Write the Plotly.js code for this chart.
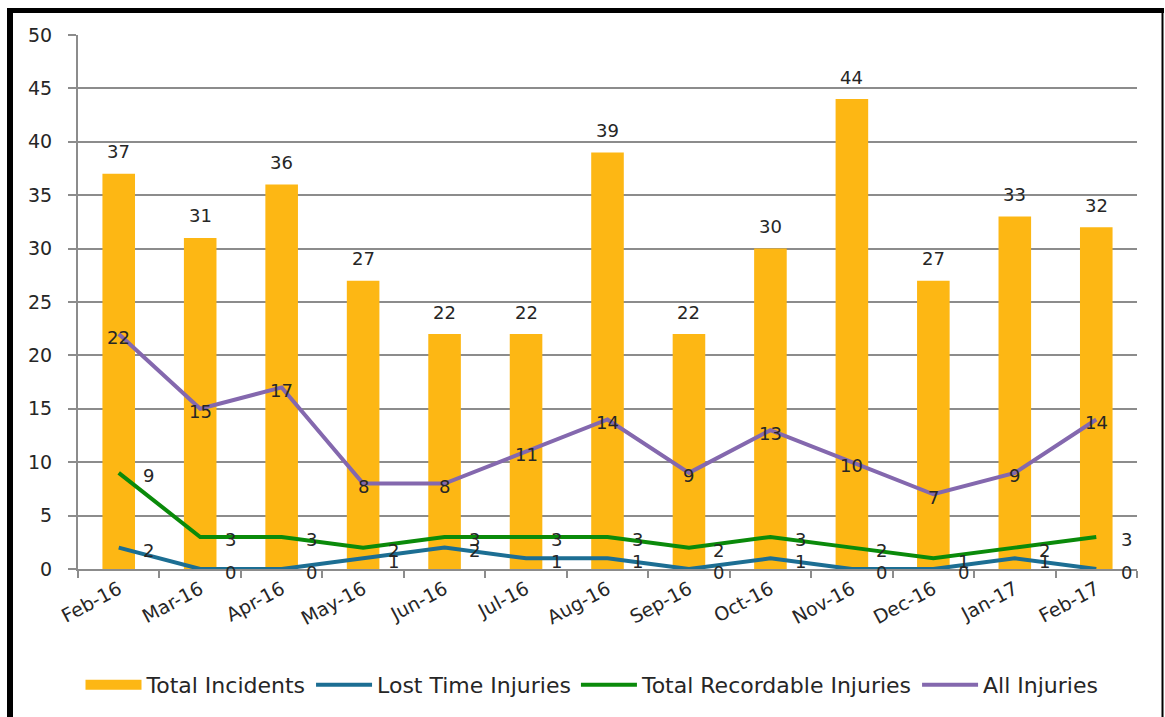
<!DOCTYPE html>
<html>
<head>
<meta charset="utf-8">
<script src="https://cdn.plot.ly/plotly-3.0.1.min.js"></script>
<style>
  html, body { margin: 0; padding: 0; background: #ffffff; }
  #chart { width: 1165px; height: 717px; }
</style>
</head>
<body>
<div id="chart"></div>
<script>
const months = ["Feb-16","Mar-16","Apr-16","May-16","Jun-16","Jul-16","Aug-16","Sep-16","Oct-16","Nov-16","Dec-16","Jan-17","Feb-17"];
const totalIncidents = [37,31,36,27,22,22,39,22,30,44,27,33,32];
const lostTimeInjuries = [2,0,0,1,2,1,1,0,1,0,0,1,0];
const totalRecordableInjuries = [9,3,3,2,3,3,3,2,3,2,1,2,3];
const allInjuries = [22,15,17,8,8,11,14,9,13,10,7,9,14];
const yTicks = [0,5,10,15,20,25,30,35,40,45,50];

const FONT = "DejaVu Sans, Verdana, sans-serif";
const TXT = "#262626";
const LBL = 18;
const BAR_COLOR = "#FDB714";

const traces = [
  { type: "bar", name: "Total Incidents", x: months, y: totalIncidents,
    marker: { color: BAR_COLOR }, showlegend: false },
  // legend entry for the bars, drawn as a wide block like the reference
  { type: "scatter", mode: "lines", name: "Total Incidents", x: [null], y: [null],
    line: { color: BAR_COLOR, width: 14 }, showlegend: true },
  { type: "scatter", mode: "lines", name: "Lost Time Injuries", x: months, y: lostTimeInjuries,
    line: { color: "#1C6E93", width: 4 } },
  { type: "scatter", mode: "lines", name: "Total Recordable Injuries", x: months, y: totalRecordableInjuries,
    line: { color: "#0A8A0A", width: 4 } },
  { type: "scatter", mode: "lines", name: "All Injuries", x: months, y: allInjuries,
    line: { color: "#8468AE", width: 4 } }
];

const annotations = [];
function addLabels(vals, xshift, yshift) {
  vals.forEach((v, i) => {
    annotations.push({
      x: months[i], y: v, xref: "x", yref: "y", text: String(v), showarrow: false,
      xanchor: "center", yanchor: "middle", xshift: xshift, yshift: yshift,
      font: { family: FONT, size: LBL, color: TXT }
    });
  });
}
addLabels(totalIncidents, 0, 22);
addLabels(lostTimeInjuries, 30, -3);
addLabels(totalRecordableInjuries, 30, -3);
addLabels(allInjuries, 0, -3);

const L = 78, R = 1137, T = 35, B = 570;
const px = v => (v - L) / (R - L);
const py = v => (B - v) / (B - T);

const shapes = [
  { type: "line", xref: "paper", yref: "paper", x0: px(10), x1: px(10), y0: py(8), y1: py(730),
    line: { color: "#000", width: 6 } },
  { type: "line", xref: "paper", yref: "paper", x0: px(7), x1: px(1164), y0: py(10.5), y1: py(10.5),
    line: { color: "#000", width: 5 } },
  { type: "line", xref: "paper", yref: "paper", x0: px(1162.5), x1: px(1162.5), y0: py(8), y1: py(730),
    line: { color: "#000", width: 2 } }
];

const layout = {
  width: 1165, height: 717,
  margin: { l: L, r: 1165 - R, t: T, b: 717 - B },
  paper_bgcolor: "#ffffff", plot_bgcolor: "#ffffff",
  font: { family: FONT, color: TXT, size: 18 },
  bargap: 0.6,
  showlegend: true,
  legend: {
    orientation: "h", x: px(592), xanchor: "center", y: py(685), yanchor: "middle",
    font: { family: FONT, size: 22, color: TXT }, itemwidth: 56, traceorder: "normal"
  },
  xaxis: {
    type: "category", tickangle: -28, tickson: "boundaries", ticks: "outside", ticklen: 7,
    tickcolor: "#8c8c8c", tickwidth: 2, showgrid: false, showline: true, linecolor: "#8c8c8c", linewidth: 2,
    tickfont: { family: FONT, size: 19, color: TXT }, fixedrange: true
  },
  yaxis: {
    range: [0, 50], tickvals: yTicks, ticktext: yTicks.map(String), ticks: "outside", ticklen: 8,
    tickcolor: "#8c8c8c", tickwidth: 2, showgrid: true, gridcolor: "#8c8c8c", gridwidth: 2,
    showline: true, linecolor: "#8c8c8c", linewidth: 2, zeroline: false,
    ticklabelstandoff: 12,
    tickfont: { family: FONT, size: 19, color: TXT }, fixedrange: true
  },
  annotations: annotations,
  shapes: shapes
};

Plotly.newPlot("chart", traces, layout, { displayModeBar: false, staticPlot: true });
</script>
</body>
</html>
